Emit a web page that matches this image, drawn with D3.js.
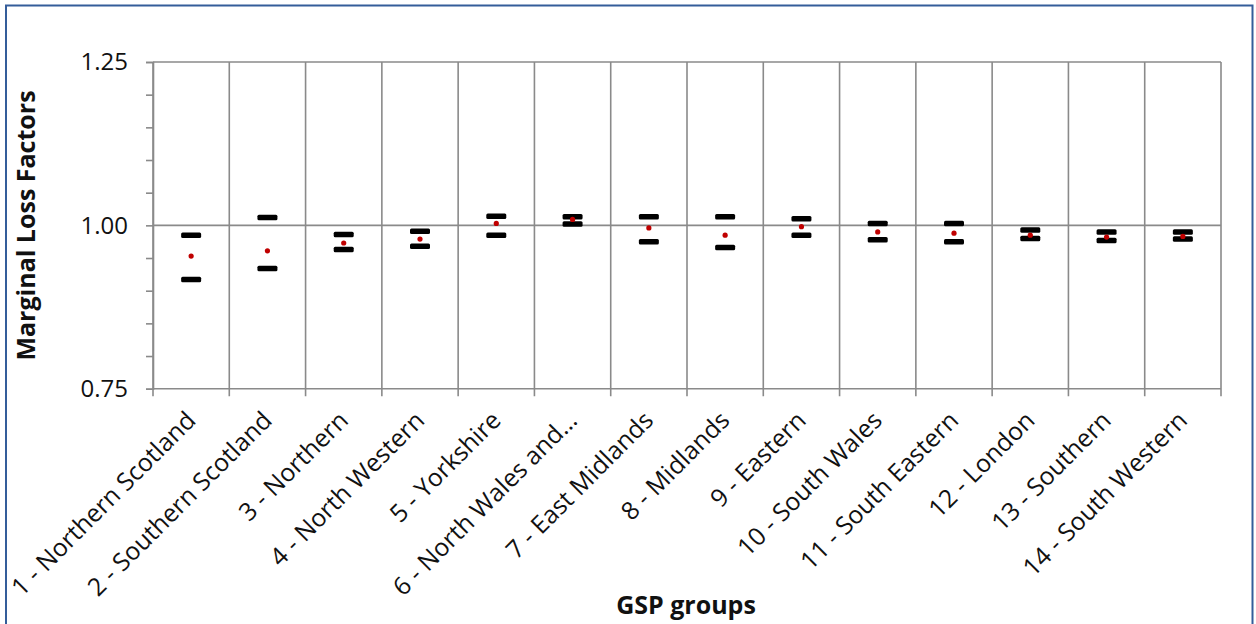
<!DOCTYPE html>
<html>
<head>
<meta charset="utf-8">
<script src="https://cdn.jsdelivr.net/npm/d3@7"></script>
<style>
  html, body { margin: 0; padding: 0; background: #fff; }
  svg { display: block; }
  text { font-family: "Open Sans", "Noto Sans", sans-serif; fill: #111; }
</style>
</head>
<body>
<svg id="chart" width="1256" height="624"></svg>
<script>
const categories = [
  "1 - Northern Scotland", "2 - Southern Scotland", "3 - Northern", "4 - North Western",
  "5 - Yorkshire", "6 - North Wales and…", "7 - East Midlands", "8 - Midlands",
  "9 - Eastern", "10 - South Wales", "11 - South Eastern", "12 - London",
  "13 - Southern", "14 - South Western"
];
const upperValues = [0.985, 1.012, 0.986, 0.991, 1.014, 1.013, 1.013, 1.013, 1.010, 1.003, 1.003, 0.993, 0.990, 0.990];
const lowerValues = [0.917, 0.934, 0.963, 0.968, 0.985, 1.002, 0.975, 0.966, 0.985, 0.978, 0.975, 0.980, 0.977, 0.979];
const meanValues  = [0.953, 0.961, 0.973, 0.979, 1.003, 1.009, 0.996, 0.985, 0.998, 0.990, 0.988, 0.985, 0.982, 0.983];
const yTickValues = [0.75, 0.80, 0.85, 0.90, 0.95, 1.00, 1.05, 1.10, 1.15, 1.20, 1.25];
const yMajorTicks = [0.75, 1.00, 1.25];
const yTitle = "Marginal Loss Factors";
const xTitle = "GSP groups";

const svg = d3.select("#chart");
const pLeft = 153, pRight = 1221, pTop = 62, pBottom = 388.7;
const gridColor = "#8a8a8a";

// outer frame
svg.append("rect").attr("x", 6).attr("y", 5.5).attr("width", 1246.5).attr("height", 700)
  .attr("fill", "none").attr("stroke", "#345d9a").attr("stroke-width", 2);

const x = d3.scaleBand().domain(categories).range([pLeft, pRight]).padding(0);
const y = d3.scaleLinear().domain([0.75, 1.25]).range([pBottom, pTop]);

// horizontal grid lines at major ticks
svg.append("g").selectAll("line").data(yMajorTicks).join("line")
  .attr("x1", pLeft).attr("x2", pRight)
  .attr("y1", d => y(d)).attr("y2", d => y(d))
  .attr("stroke", gridColor).attr("stroke-width", 1.6);

// vertical grid lines at category boundaries (extend below as ticks)
const bounds = categories.map(c => x(c)).concat([pRight]);
svg.append("g").selectAll("line").data(bounds).join("line")
  .attr("x1", d => d).attr("x2", d => d)
  .attr("y1", pTop).attr("y2", pBottom + 7.5)
  .attr("stroke", gridColor).attr("stroke-width", 1.6);

// y axis
const yAxis = d3.axisLeft(y).tickValues(yTickValues).tickSize(7).tickPadding(18)
  .tickFormat(d => yMajorTicks.some(m => Math.abs(m - d) < 1e-9) ? d3.format(".2f")(d) : "");
const ya = svg.append("g").attr("transform", `translate(${pLeft},0)`).call(yAxis);
ya.select(".domain").attr("stroke", gridColor).attr("stroke-width", 1.6);
ya.selectAll(".tick line").attr("stroke", gridColor).attr("stroke-width", 1.6);
ya.selectAll(".tick text").attr("font-size", 24).attr("font-family", "Open Sans").attr("fill", "#111");

// category labels
svg.append("g").selectAll("text").data(categories).join("text")
  .attr("transform", d => `translate(${x(d) + x.bandwidth() / 2 + 6},422) rotate(-45)`)
  .attr("text-anchor", "end")
  .attr("font-size", 24.8)
  .text(d => d);

// markers
const bw = 20, bh = 5.5;
const mg = svg.append("g");
mg.selectAll("rect.up").data(categories).join("rect").attr("class", "up")
  .attr("x", d => x(d) + x.bandwidth() / 2 - bw / 2)
  .attr("y", (d, i) => y(upperValues[i]) - bh / 2)
  .attr("width", bw).attr("height", bh).attr("rx", 1.5).attr("fill", "#000");
mg.selectAll("rect.lo").data(categories).join("rect").attr("class", "lo")
  .attr("x", d => x(d) + x.bandwidth() / 2 - bw / 2)
  .attr("y", (d, i) => y(lowerValues[i]) - bh / 2)
  .attr("width", bw).attr("height", bh).attr("rx", 1.5).attr("fill", "#000");
mg.selectAll("circle").data(categories).join("circle")
  .attr("cx", d => x(d) + x.bandwidth() / 2)
  .attr("cy", (d, i) => y(meanValues[i]))
  .attr("r", 2.6).attr("fill", "#c00000");

// axis titles
svg.append("text").attr("transform", "translate(35,225.5) rotate(-90)")
  .attr("text-anchor", "middle").attr("font-weight", "bold").attr("font-size", 25)
  .text(yTitle);
svg.append("text").attr("x", 686).attr("y", 614)
  .attr("text-anchor", "middle").attr("font-weight", "bold").attr("font-size", 25)
  .text(xTitle);
</script>
</body>
</html>
